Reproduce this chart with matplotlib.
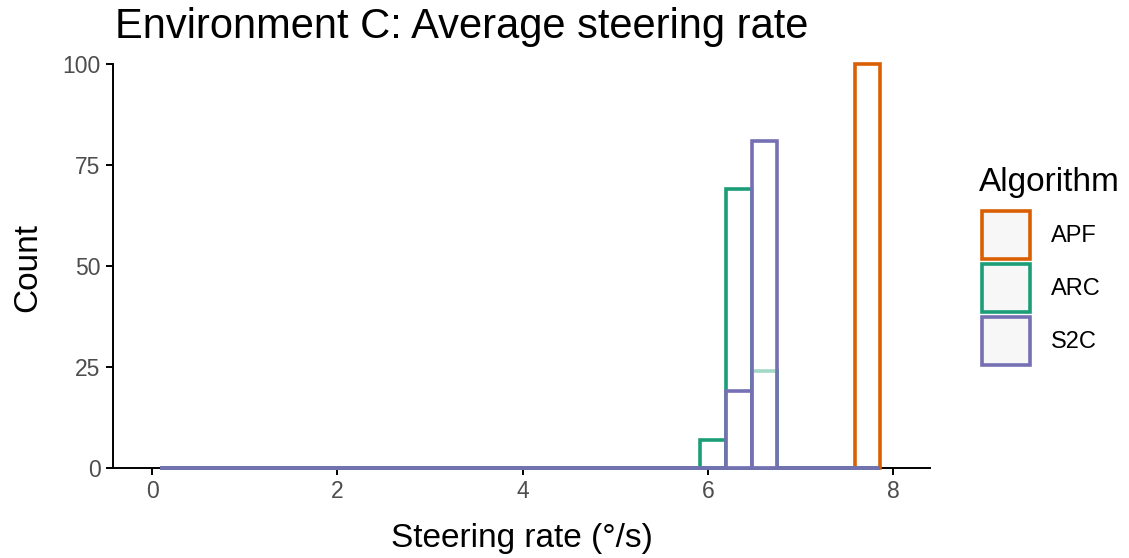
import numpy as np
import matplotlib.pyplot as plt
from matplotlib.patches import Rectangle

plt.rcParams['font.family'] = ['Liberation Sans', 'DejaVu Sans']

# histogram bins (shared by all algorithms)
bin_start = 0.08
bin_width = 0.278
n_bins = 28

algorithms = ['APF', 'ARC', 'S2C']
colors = ['#D95F02', '#1B9E77', '#7570B3']

# counts per bin
apf_counts = [0] * 27 + [100]
arc_counts = [0] * 21 + [7, 69, 24] + [0] * 4
s2c_counts = [0] * 22 + [19, 81] + [0] * 4

x_ticks = [0, 2, 4, 6, 8]
y_ticks = [0, 25, 50, 75, 100]

W, H = 1129, 558
fig = plt.figure(figsize=(W / 100, H / 100), dpi=100)
ax = fig.add_axes([113 / W, 1 - 468 / H, (930 - 113) / W, (468 - 64) / H])

edges = bin_start + bin_width * np.arange(n_bins)
for counts, col in zip([apf_counts, arc_counts, s2c_counts], colors):
    ax.bar(edges, counts, width=bin_width, align='edge',
           facecolor=(1, 1, 1, 0.6), edgecolor=col, linewidth=2.6,
           clip_on=False, zorder=3)

ax.set_xlim(-0.424, 8.40)
ax.set_ylim(0, 100)
ax.set_xticks(x_ticks)
ax.set_yticks(y_ticks)
for s in ['top', 'right']:
    ax.spines[s].set_visible(False)
for s in ['left', 'bottom']:
    ax.spines[s].set_linewidth(1.4)
    ax.spines[s].set_zorder(2)
ax.tick_params(length=5, width=1.4, labelsize=16.5, labelcolor='#4D4D4D', pad=4)


# text and legend placed in pixel coordinates
def fx(px):
    return px / W


def fy(py):
    return 1 - py / H


fig.text(fx(115), fy(38), 'Environment C: Average steering rate',
         fontsize=30, ha='left', va='baseline')
fig.text(fx(522), fy(547), 'Steering rate (°/s)', fontsize=24,
         ha='center', va='baseline')
fig.text(fx(36), fy(267), 'Count', fontsize=24, rotation=90,
         ha='center', va='baseline', rotation_mode='anchor')

fig.text(fx(979), fy(183), 'Algorithm', fontsize=24, va='center', ha='left')
key_tops = [211, 264, 317]
for name, col, top in zip(algorithms, colors, key_tops):
    fig.add_artist(Rectangle((fx(982), fy(top + 48)), fx(48), 48 / H,
                             transform=fig.transFigure, facecolor='#F7F7F7',
                             edgecolor=col, linewidth=2.6))
    fig.text(fx(1051), fy(top + 25), name, fontsize=17, va='center', ha='left')

fig.savefig('out.png', dpi=100)
